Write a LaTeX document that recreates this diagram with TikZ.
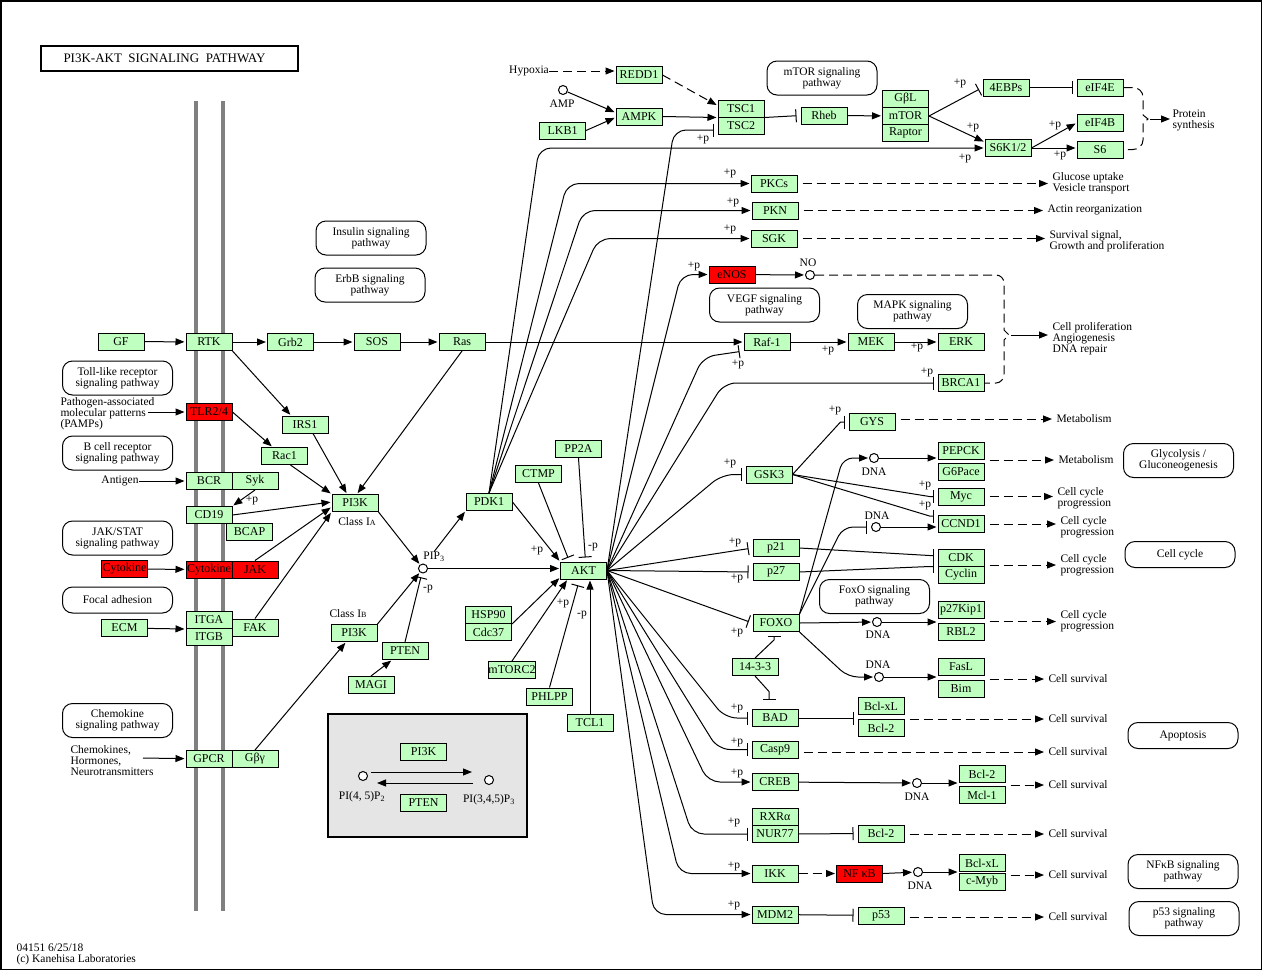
\documentclass[tikz,border=0pt]{standalone}
\usepackage{fontspec}
\setmainfont{Liberation Serif}
\usetikzlibrary{arrows.meta}
\definecolor{kgreen}{RGB}{191,255,191}
\definecolor{kgray}{RGB}{229,229,229}
\newcommand\kfont{\fontsize{11.5}{11}\selectfont}
\newcommand\smc[1]{{\fontsize{8}{8}\selectfont #1}}
\tikzset{
  gene/.style={draw, fill=kgreen, minimum width=46pt, minimum height=17pt, inner sep=0pt, font=\fontsize{12}{12}\selectfont},
  redgene/.style={gene, fill=red},
  pwy/.style={draw, rounded corners=10pt, minimum width=110pt, align=center, inner sep=0pt},
  txt/.style={anchor=west, align=left, inner sep=0pt},
  lbl/.style={inner sep=0pt},
  cpd/.style={circle, draw, fill=white, minimum size=9pt, inner sep=0pt},
  act/.style={-{Triangle[length=9pt,width=7pt]}, shorten >=1pt},
  inh/.style={-{Bar[width=13pt]}, shorten >=4pt},
  dsh/.style={dash pattern=on 9pt off 5pt}
}
\begin{document}
\begin{tikzpicture}[x=1pt, y=-1pt, line width=1pt, font=\kfont]
\useasboundingbox (0,0) rectangle (1262,970);
\draw[line width=1.5pt] (0.75,0.75) rectangle (1261.25,969.25);
\node[draw, line width=2pt, minimum width=257pt, minimum height=25pt, font=\fontsize{13}{13}\selectfont] (title) at (169.5,58.5) {PI3K-AKT\ \ SIGNALING\ \ PATHWAY\hspace*{10pt}};

\foreach \x in {196,223}
  \draw[line width=4pt, gray] (\x,101) -- (\x,911);

\node[draw, line width=2pt, fill=kgray, minimum width=199pt, minimum height=123pt] (pbox) at (427.5,775.5) {};

% pathway maps
\foreach \n/\t/\x/\y/\h in {toll/{Toll-like receptor\\signaling pathway}/117.5/378/34,
    bcell/{B cell receptor\\signaling pathway}/117.5/453/34,
    jakp/{JAK/STAT\\signaling pathway}/117.5/538/34,
    focal/{Focal adhesion}/117.5/600/26,
    chemo/{Chemokine\\signaling pathway}/117.5/720.5/34,
    insul/{Insulin signaling\\pathway}/371/238/34,
    erbb/{ErbB signaling\\pathway}/370/285/34,
    mtorp/{mTOR signaling\\pathway}/822/78/34,
    vegf/{VEGF signaling\\pathway}/764.5/305/34,
    mapk/{MAPK signaling\\pathway}/912.5/311.5/34,
    foxop/{FoxO signaling\\pathway}/874.5/596.5/34,
    glyc/{Glycolysis /\\Gluconeogenesis}/1178.5/460.5/34,
    ccyc/{Cell cycle}/1180/554.5/26,
    apop/{Apoptosis}/1183/735.5/26,
    nfkbp/{NFκB signaling\\pathway}/1183/871.5/34,
    p53p/{p53 signaling\\pathway}/1184/918.5/34}
  \node[pwy, minimum height=\h pt] (\n) at (\x,\y) {\t};

% genes
\foreach \n/\t/\x/\y in {gf/GF/121/341.5, rtk/RTK/209/342, grb/Grb2/290.5/342, sos/SOS/377/342,
    ras/Ras/462/342, raf/Raf-1/767/342, mek/MEK/871/342, erk/ERK/961/342, brca/BRCA1/961/383,
    irs/IRS1/305/424.5, rac/Rac1/284.5/456, bcr/BCR/209/481, syk/Syk/255/481, cd19/CD19/209/515,
    bcap/BCAP/249.5/531.5, ecm/ECM/124.5/628, itga/ITGA/209/620, itgb/ITGB/209/637, fak/FAK/255/627.5,
    gpcr/GPCR/209/759, gby/Gβγ/255/759, pikA/PI3K/355/503, pdk/PDK1/489/502, ctmp/CTMP/538.5/474,
    pp2a/PP2A/578.5/449, akt/AKT/583.5/570.5, pikB/PI3K/354/633, pten/PTEN/405/651, magi/MAGI/371/685,
    hsp/HSP90/488.5/615, cdc/Cdc37/488.5/632, mtorc/mTORC2/512/670, phlpp/PHLPP/549.5/696.5,
    tcl/TCL1/590/722.5, pikC/PI3K/423.5/752, ptenC/PTEN/423.5/803,
    redd/REDD1/639/75, ampk/AMPK/639/116.5, lkb/LKB1/562.5/130.5, tsca/TSC1/741/108.5, tscb/TSC2/741/125.5,
    rheb/Rheb/824/115.5, gbl/GβL/905.5/99, mtor/mTOR/905.5/116, rapt/Raptor/905.5/133,
    ebp/4EBPs/1006/87.5, eife/eIF4E/1100/87.5, eifb/eIF4B/1100/123, s6k/{S6K1/2}/1008/148, s6/S6/1100/149.5,
    pkc/PKCs/774/183.5, pkn/PKN/775/210.5, sgk/SGK/774/238.5, gys/GYS/872/422,
    pepck/PEPCK/961/450.5, g6p/G6Pace/961/471.5, gsk/GSK3/769/474.5, myc/Myc/961/496.5, ccnd/CCND1/961/524,
    p21/p21/776/548, p27/p27/776/572, cdk/CDK/961/557.5, cyc/Cyclin/961/574.5, foxo/FOXO/776/623,
    kip/p27Kip1/961/610, rbl/RBL2/961/631.5, ywh/14-3-3/755/667, fasl/FasL/961/666.5, bim/Bim/961/688.5,
    bad/BAD/775/718, bclxa/Bcl-xL/881/706, bcla/Bcl-2/881/728, casp/Casp9/775/749.5, creb/CREB/775/782,
    bclb/Bcl-2/982/774, mcl/Mcl-1/982/795, rxr/RXRα/775/816.5, nur/NUR77/775/834, bclc/Bcl-2/881/833.5,
    ikk/IKK/775/873.5, bclxb/Bcl-xL/982/863, cmyb/c-Myb/982/882, mdm/MDM2/775/914.5, p53/p53/881/915.5}
  \node[gene] (\n) at (\x,\y) {\t};
\node[redgene] (tlr) at (209,412) {TLR2/4};
\node[redgene] (cyt) at (124.5,569) {Cytokine};
\node[redgene] (cytr) at (209,569.5) {\makebox[44pt][l]{CytokineR}};
\node[redgene] (jak) at (255,569.5) {JAK};
\node[redgene] (enos) at (732,274.5) {eNOS};
\node[redgene] (nfkb) at (859.5,873.5) {NF κB};

% compounds
\node[cpd] (amp) at (563,90) {};
\node[cpd] (no) at (810,275) {};
\node[cpd] (pip) at (423,568.5) {};
\node[cpd] (lA) at (363,776) {};
\node[cpd] (lB) at (489,780) {};
\foreach \n/\x/\y in {dnaA/874/458, dnaB/876/527, dnaC/877/622, dnaD/879/677, dnaE/917/783, dnaF/918/872}
  \node[cpd] (\n) at (\x,\y) {};
\foreach \n/\x/\y in {dA/874/472, dB/877/516, dC/878/635, dD/878/665, dE/917/797, dF/920/886}
  \node[lbl] (\n) at (\x,\y) {DNA};
\node[lbl] (amplbl) at (562,104) {AMP};
\node[lbl] (nolbl) at (808,263) {NO};
\node[lbl] (piplbl) at (434,557) {PIP\textsubscript{3}};
\node[lbl] (lAlbl) at (362,797) {PI(4, 5)P\textsubscript{2}};
\node[lbl] (lBlbl) at (489,800) {PI(3,4,5)P\textsubscript{3}};
\node[lbl] (clA) at (357,522) {Class I\smc{A}};
\node[lbl] (clB) at (348,614) {Class I\smc{B}};

% texts
\node[txt] (pamps) at (60,414) {Pathogen-associated\\molecular patterns\\(PAMPs)};
\node[lbl] (antigen) at (120,481) {Antigen};
\node[txt] (chem) at (70,761) {Chemokines,\\Hormones,\\Neurotransmitters};
\node[lbl] (hyp) at (529,71) {Hypoxia};
\node[txt] (psyn) at (1172,120.5) {Protein\\synthesis};
\node[txt] (glu) at (1052,183.5) {Glucose uptake\\Vesicle transport};
\node[txt] (actin) at (1047,210) {Actin reorganization};
\node[txt] (surv) at (1049,241.5) {Survival signal,\\Growth and proliferation};
\node[txt] (cp) at (1052,338.5) {Cell proliferation\\Angiogenesis\\DNA repair};
\node[txt] (metA) at (1056,419) {Metabolism};
\node[txt] (metB) at (1058,460) {Metabolism};
\node[txt] (ccA) at (1057,498.5) {Cell cycle\\progression};
\node[txt] (ccB) at (1060,527.5) {Cell cycle\\progression};
\node[txt] (ccC) at (1060,565) {Cell cycle\\progression};
\node[txt] (ccD) at (1060,621.5) {Cell cycle\\progression};
\foreach \n/\y in {svA/679, svB/719, svC/752, svD/785, svE/834, svF/875, svG/917}
  \node[txt] (\n) at (1048,\y) {Cell survival};
\node[txt] (foot) at (16,954) {04151 6/25/18\\(c) Kanehisa Laboratories};

\foreach \x/\y [count=\i] in {960/83, 973/127, 965/158, 1055/125, 1060/155, 703/139, 730/173, 733/202,
    730/229, 694/266, 738/364, 828/350, 917/347, 927/372, 835/410, 730/463, 925/485, 925/505, 735/542,
    737/578, 737/632, 737/708, 737/742, 737/773, 734/822, 734/866, 734/905, 537/550, 563/603, 252/500}
  \node[lbl] (pp\i) at (\x,\y) {+p};
\foreach \x/\y [count=\i] in {593/547, 582/615, 428/589}
  \node[lbl] (mp\i) at (\x,\y) {-p};

% receptors
\coordinate (pampin) at (148,412);
\coordinate (chemin) at (143,758);
\draw[act] (gf) -- (rtk);
\draw[act] (pampin) -- (tlr);
\draw[act] (antigen) -- (bcr);
\draw[act] (cyt) -- (cytr);
\draw[act] (ecm) -- (itga.south west);
\draw[act] (chemin) -- (gpcr);
\draw[act] (rtk) -- (grb);
\draw[act] (grb) -- (sos);
\draw[act] (sos) -- (ras);
\draw[act] (ras) -- (raf);
\draw[act] (raf) -- (mek);
\draw[act] (mek) -- (erk);
\draw[act] (rtk.south east) -- ([xshift=-14pt]irs.north);
\draw[act] (tlr.east) -- ([xshift=-12pt]rac.north);
\draw[act] (syk.south) -- (cd19.north east);
\draw[act] ([xshift=8pt]irs.south) -- ([xshift=-8pt]pikA.north);
\draw[act] (ras.south) -- ([xshift=2pt]pikA.north);
\draw[act] ([xshift=6pt]rac.south) -- (pikA.north west);
\draw[act] (cd19.east) -- ([yshift=1pt]pikA.west);
\draw[act] (jak.north) -- ([yshift=-4pt]pikA.west);
\draw[act] (fak.north) -- (pikA.south west);
\draw[act] (gby.north) -- ([xshift=-8pt]pikB.south);
\draw[act] (magi.north) -- ([xshift=-13pt]pten.south);

% PIP3 and AKT
\draw[act] (pikA.south east) -- (pip);
\draw[act] (pikB.north east) -- (pip);
\draw[inh] (pten.north) -- (pip);
\draw[act] (piplbl.north) -- (pdk.south west);
\draw[act] (pip) -- (pip -| akt.west);
\draw[act] (pdk.east) -- (akt.north west);
\draw[inh] (ctmp.south) -- ([xshift=-14pt]akt.north);
\draw[inh] (pp2a.south) -- ([xshift=2pt]akt.north);
\draw[act] (hsp.south east) -- ([yshift=2pt]akt.south west);
\draw[act] (mtorc.north) -- ([xshift=-16pt]akt.south);
\draw[inh, shorten >=6pt] (phlpp.north) -- ([xshift=-4pt]akt.south);
\draw[act] (tcl.north) -- (tcl.north |- akt.south);
\draw[act] ([xshift=8pt,yshift=4pt]lA.center) -- ([xshift=-16pt,yshift=8pt]lB.center);
\draw[act] ([xshift=-16pt,yshift=-3pt]lB.center) -- ([xshift=13pt,yshift=-7pt]lA.center);

% mTOR branch
\draw[act, dsh] (hyp) -- ([yshift=4pt]redd.west);
\draw[act, dsh] (redd.east) -- ([yshift=3pt]tsca.west);
\draw[act] (amp) -- ([yshift=4pt]ampk.west);
\draw[act] (lkb.east) -- ([yshift=-1pt]ampk.west);
\draw[act] (ampk.east) -- (tsca.south west);
\draw[inh] (tsca.south east) -- (rheb.west);
\draw[act] (rheb) -- (mtor);
\draw[inh] (mtor.east) -- (ebp.west);
\draw[act] (mtor.east) -- ([yshift=6pt]s6k.west);
\draw[inh] (ebp) -- (eife);
\draw[act] (s6k.east) -- (eifb.west);
\draw[act] (s6k.east) -- (s6k.east -| s6.west);
\draw[dsh] (eife.east) -- (1133,87.5) to[out=0,in=90] (1143,97) -- (1143,115) -- (1148,119) -- (1143,123)
  -- (1143,140) to[out=-90,in=0] (1133,149.5) -- (s6.east);
\coordinate (psb) at (1150,119);
\draw[act, shorten >=2pt] (psb) -- (psb -| psyn.west);

% PDK1 targets
\draw[act, rounded corners=12pt] (pdk.north) -- (539,148) -- (s6k.west);
\draw[act, rounded corners=12pt] (pdk.north) -- (567,183.5) -- (pkc.west);
\draw[act, rounded corners=12pt] (pdk.north) -- (583,210.5) -- (pkn.west);
\draw[act, rounded corners=12pt] (pdk.north) -- (598,238.5) -- (sgk.west);
\draw[act, dsh, shorten <=5pt, shorten >=4pt] (pkc.east) -- (pkc.east -| glu.west);
\draw[act, dsh, shorten <=5pt, shorten >=4pt] (pkn.east) -- (pkn.east -| actin.west);
\draw[act, dsh, shorten <=5pt, shorten >=4pt] (sgk.east) -- (sgk.east -| surv.west);

% AKT targets
\draw[inh, rounded corners=12pt] (akt.east) -- (674,130) -- ([yshift=-4.5pt]tscb.west);
\draw[act, rounded corners=12pt] (akt.east) -- (681,274.5) -- (enos.west);
\draw[inh, rounded corners=12pt] (akt.east) -- (703,357) -- (raf.south west);
\draw[inh, rounded corners=12pt] (akt.east) -- (724,383) -- (brca.west);
\draw[inh, rounded corners=12pt] (akt.east) -- (722,474.5) -- (gsk.west);
\draw[inh] (akt.east) -- (p21.west);
\draw[inh] (akt.east) -- (p27.west);
\draw[inh] (akt.east) -- (foxo.west);
\draw[inh, rounded corners=12pt] (akt.east) -- (725,718) -- (bad.west);
\draw[inh, rounded corners=12pt] (akt.east) -- (718,749.5) -- (casp.west);
\draw[act, rounded corners=12pt] (akt.east) -- (708,782) -- (creb.west);
\draw[inh, rounded corners=12pt] (akt.east) -- (692,834) -- (nur.west);
\draw[act, rounded corners=12pt] (akt.east) -- (679,873.5) -- (ikk.west);
\draw[act, rounded corners=12pt] (akt.east) -- (654,914.5) -- (mdm.west);

% eNOS and bracket
\draw[act] (enos) -- (no);
\draw[dsh] (no) -- (996,275) to[out=0,in=90] (1004,283) -- (1004,330) -- (1009,335) -- (1004,340)
  -- (1004,374) to[out=-90,in=0] (996,383) -- (brca.east);
\coordinate (cpb) at (1011,335);
\draw[act, shorten >=4pt] (cpb) -- (cpb -| cp.west);

% GSK3, FOXO, p21, p27
\draw[inh] (gsk.east) -- ([xshift=-8pt]gys.west) -- (gys.west);
\draw[inh] (gsk.east) -- ([xshift=-8pt]myc.west) -- (myc.west);
\draw[inh] (gsk.east) -- ([xshift=-8pt,yshift=8pt]ccnd.west) -- ([yshift=8pt]ccnd.west);
\draw[inh] (p21.east) -- ([xshift=-8pt,yshift=2pt]cdk.west) -- ([yshift=2pt]cdk.west);
\draw[inh] (p27.east) -- ([xshift=-8pt,yshift=-9pt]cdk.west) -- ([yshift=-9pt]cdk.west);
\draw[act, rounded corners=10pt] (foxo.north east) -- (843,458) -- (dnaA);
\draw[inh, rounded corners=10pt] (foxo.north east) -- (843,527) -- (dnaB);
\draw[act] (foxo.east) -- (dnaC);
\draw[act, rounded corners=10pt] (foxo.south east) -- (848,677) -- (dnaD);
\draw[act] (dnaA) -- (dnaA -| pepck.west);
\draw[act] (dnaB) -- (dnaB -| ccnd.west);
\draw[act] (dnaC) -- (dnaC -| kip.west);
\draw[act] (dnaD) -- (dnaD -| fasl.west);
\draw[inh] (ywh.north) -- ([xshift=-2pt,yshift=-8pt]foxo.south) -- ([xshift=-2pt]foxo.south);
\draw[inh] (ywh.south) -- ([xshift=-6pt,yshift=17.5pt]bad.north) -- ([xshift=-6pt,yshift=5.5pt]bad.north);

% survival targets
\draw[inh] (bad.east) -- (bad.east -| bclxa.west);
\draw[act] (creb) -- (dnaE);
\draw[act] (dnaE) -- (dnaE -| bclb.west);
\draw[inh] (nur) -- (bclc);
\draw[act, dsh] (ikk) -- (nfkb);
\draw[act] (nfkb.east) -- (dnaF);
\draw[act] (dnaF) -- (dnaF -| bclxb.west);
\draw[inh] (mdm) -- (p53);

% dashed outputs
\foreach \a/\b in {metA/gys, metB/pepck, ccC/cdk, ccD/kip, svA/fasl, svB/bclxa, svC/casp, svD/bclb, svE/bclc, svF/bclxb, svG/p53}
  \draw[act, dsh, shorten <=5pt, shorten >=4pt] (\a.west -| \b.east) -- (\a.west);
\draw[act, dsh, shorten <=5pt, shorten >=4pt] (myc.east) -- (myc.east -| ccA.west);
\draw[act, dsh, shorten <=5pt, shorten >=4pt] (ccnd.east) -- (ccnd.east -| ccB.west);
\end{tikzpicture}
\end{document}
